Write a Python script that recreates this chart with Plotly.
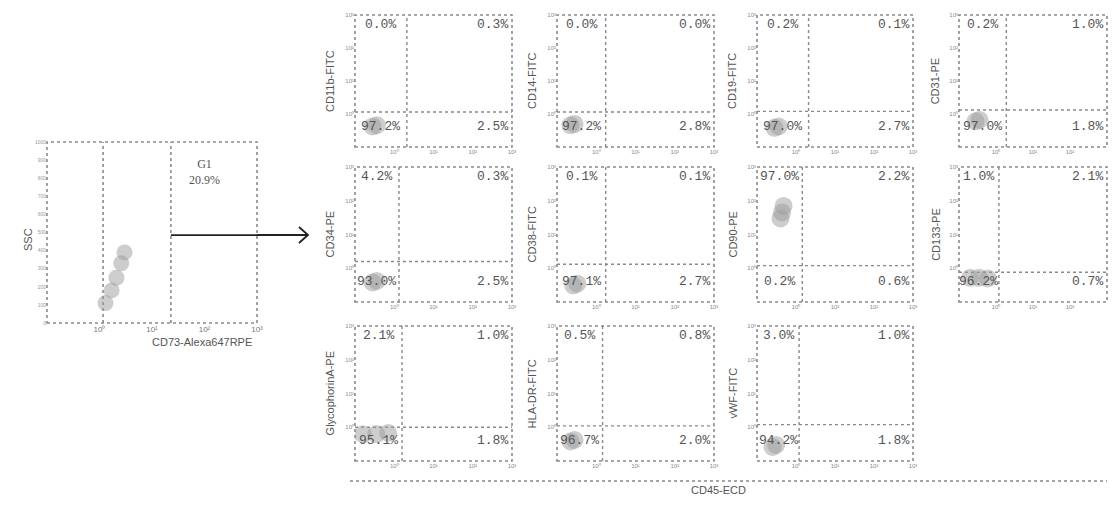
import math
import plotly.graph_objects as go

# the page body adds an 8px margin, so positions are measured from the
# reference picture and shifted by OFF; the figure is kept inside the window
OFF = 8
W, H = 1117 - 2 * OFF, 507 - 2 * OFF

# ---------------- data ----------------
panel_labels = ["CD11b-FITC", "CD14-FITC", "CD19-FITC", "CD31-PE",
                "CD34-PE", "CD38-FITC", "CD90-PE", "CD133-PE",
                "GlycophorinA-PE", "HLA-DR-FITC", "vWF-FITC"]
pct_ul = [0.0, 0.0, 0.2, 0.2, 4.2, 0.1, 97.0, 1.0, 2.1, 0.5, 3.0]
pct_ur = [0.3, 0.0, 0.1, 1.0, 0.3, 0.1, 2.2, 2.1, 1.0, 0.8, 1.0]
pct_ll = [97.2, 97.2, 97.0, 97.0, 93.0, 97.1, 0.2, 96.2, 95.1, 96.7, 94.2]
pct_lr = [2.5, 2.8, 2.7, 1.8, 2.5, 2.7, 0.6, 0.7, 1.8, 2.0, 1.8]
gate_x = [2.1, 1.74, 2.1, 1.9, 1.32, 1.74, 1.45, 1.2, 1.58, 1.45, 1.2]
gate_y = [1.15, 1.15, 1.2, 1.32, 1.58, 1.32, 1.2, 0.76, 1.0, 1.1, 1.2]
cloud_x = [[0.28, 0.36], [0.22, 0.28], [0.28, 0.36], [0.28, 0.36], [0.28, 0.36], [0.26, 0.33],
           [0.40, 0.44, 0.48], [0.20, 0.35, 0.60], [0.16, 0.35, 0.70],
           [0.22, 0.28], [0.25, 0.31]]
cloud_y = [[0.42, 0.46], [0.46, 0.50], [0.38, 0.42], [0.60, 0.66], [0.38, 0.42], [0.31, 0.35],
           [30, 45, 70], [0.52, 0.52, 0.50], [0.62, 0.63, 0.68],
           [0.38, 0.42], [0.26, 0.30]]
log_ticks = [1, 10, 100, 1000]
log_tick_text = ["10⁰", "10¹", "10²", "10³"]

# gating panel (left)
g1_gates = [1.17, 22.9]
g1_label = "G1"
g1_pct = 20.9
g1_arrow_ssc = 486
g1_cloud_x = [1.3, 1.7, 2.1, 2.6, 3.0]
g1_cloud_ssc = [110, 180, 250, 330, 390]
ssc_ticks = [0, 100, 200, 300, 400, 500, 600, 700, 800, 900, 1000]
x_title_left = "CD73-Alexa647RPE"
y_title_left = "SSC"
common_x_title = "CD45-ECD"

# ---------------- layout helpers ----------------
col_px = [(355, 512), (557, 714), (757, 913), (959, 1107)]
row_px = [(15, 147), (167, 302), (326, 461)]

def PX(x):
    return (x - OFF) / W

def PY(y):
    return 1 - (y - OFF) / H

def px_dom_x(a, b):
    return [PX(a), PX(b)]

def px_dom_y(top, bot):
    return [PY(bot), PY(top)]

TXT = "#555555"
BOX = "#8a8a8a"
pct_font = dict(family="Liberation Mono, DejaVu Sans Mono, monospace", size=13, color=TXT)
lab_font = dict(family="Liberation Sans Narrow, Liberation Sans, Arial", size=11, color=TXT)
tick_font = dict(family="Liberation Sans, Arial", size=6, color="#8a8a8a")
cloud_marker = dict(color="rgba(155,155,155,0.5)", line=dict(width=0))

fig = go.Figure()
layout = dict(template="none", width=W, height=H, margin=dict(l=0, r=0, t=0, b=0, pad=0),
              paper_bgcolor="white", plot_bgcolor="white", showlegend=False)
shapes, annotations = [], []

def box_shapes(k):
    xr = "x domain" if k == 1 else f"x{k} domain"
    yr = "y domain" if k == 1 else f"y{k} domain"
    shapes.append(dict(type="rect", xref=xr, yref=yr, x0=0, x1=1, y0=0, y1=1,
                       line=dict(color=BOX, width=1.6, dash="dot"), layer="above"))

# ---- left gating panel (axis 1) ----
layout["xaxis"] = dict(domain=px_dom_x(47, 257), anchor="y", type="log", range=[-1, 3],
                       tickvals=log_ticks, ticktext=log_tick_text, showgrid=False,
                       zeroline=False, showline=False, ticks="", automargin=False,
                       tickfont=dict(family="Liberation Sans, Arial", size=8, color="#777"))
layout["yaxis"] = dict(domain=px_dom_y(142, 323), anchor="x", range=[0, 1000],
                       tickvals=ssc_ticks, showgrid=False, zeroline=False,
                       showline=False, ticks="", automargin=False,
                       tickfont=dict(family="Liberation Sans, Arial", size=5, color="#999"))
box_shapes(1)
for g in g1_gates:
    fig.add_trace(go.Scatter(x=[g, g], y=[0, 1000], mode="lines", xaxis="x", yaxis="y",
                             line=dict(color=BOX, width=1.6, dash="dot"), hoverinfo="skip"))
fig.add_trace(go.Scatter(x=g1_cloud_x, y=g1_cloud_ssc, mode="markers", xaxis="x", yaxis="y",
                         marker=dict(size=16, **cloud_marker), hoverinfo="skip"))
fig.add_trace(go.Scatter(x=[g1_gates[1], 1000], y=[g1_arrow_ssc, g1_arrow_ssc], mode="lines",
                         xaxis="x", yaxis="y", line=dict(color="#222", width=1.8),
                         hoverinfo="skip"))
# arrow continuing outside panel
yA = PY(235)
shapes.append(dict(type="line", xref="paper", yref="paper", x0=PX(257), x1=PX(307),
                   y0=yA, y1=yA, line=dict(color="#222", width=1.8)))
shapes.append(dict(type="path", xref="paper", yref="paper",
                   path=f"M {PX(299)} {PY(227)} L {PX(308)} {yA} L {PX(299)} {PY(243)}",
                   line=dict(color="#222", width=1.8)))
annotations.append(dict(xref="x domain", yref="y domain", x=0.75, y=0.93, showarrow=False,
                        text=f"{g1_label}<br>{g1_pct:.1f}%",
                        font=dict(family="Liberation Serif", size=12, color=TXT),
                        xanchor="center", yanchor="top"))
annotations.append(dict(xref="paper", yref="paper", x=PX(150), y=PY(350), showarrow=False,
                        text=x_title_left, font=lab_font))
annotations.append(dict(xref="paper", yref="paper", x=PX(20), y=PY(240), showarrow=False,
                        text=y_title_left, textangle=-90, font=lab_font))

# ---- marker grid panels ----
for i, lab in enumerate(panel_labels):
    k = i + 2
    r, c = divmod(i, 4)
    xa, ya = f"x{k}", f"y{k}"
    layout[f"xaxis{k}"] = dict(domain=px_dom_x(*col_px[c]), anchor=ya, type="log", range=[-1, 3],
                               tickvals=log_ticks, ticktext=log_tick_text, showgrid=False,
                               zeroline=False, showline=False, ticks="", automargin=False,
                               tickfont=tick_font)
    layout[f"yaxis{k}"] = dict(domain=px_dom_y(*row_px[r]), anchor=xa, type="log", range=[-1, 3],
                               tickvals=log_ticks, ticktext=log_tick_text, showgrid=False,
                               zeroline=False, showline=False, ticks="", automargin=False,
                               tickfont=tick_font)
    box_shapes(k)
    gx, gy = gate_x[i], gate_y[i]
    fig.add_trace(go.Scatter(x=[gx, gx], y=[0.1, 1000], mode="lines", xaxis=xa, yaxis=ya,
                             line=dict(color=BOX, width=1.4, dash="dot"), hoverinfo="skip"))
    fig.add_trace(go.Scatter(x=[0.1, 1000], y=[gy, gy], mode="lines", xaxis=xa, yaxis=ya,
                             line=dict(color=BOX, width=1.4, dash="dot"), hoverinfo="skip"))
    fig.add_trace(go.Scatter(x=cloud_x[i], y=cloud_y[i], mode="markers", xaxis=xa, yaxis=ya,
                             marker=dict(size=18, **cloud_marker), hoverinfo="skip"))
    fx = (math.log10(gx) + 1) / 4
    xr, yr = f"{xa} domain", f"{ya} domain"
    annotations += [
        dict(xref=xr, yref=yr, x=fx / 2, y=1.0, text=f"{pct_ul[i]:.1f}%", showarrow=False,
             xanchor="center", yanchor="top", font=pct_font),
        dict(xref=xr, yref=yr, x=0.985, y=1.0, text=f"{pct_ur[i]:.1f}%", showarrow=False,
             xanchor="right", yanchor="top", font=pct_font),
        dict(xref=xr, yref=yr, x=fx / 2, y=0.08, text=f"{pct_ll[i]:.1f}%", showarrow=False,
             xanchor="center", yanchor="bottom", font=pct_font),
        dict(xref=xr, yref=yr, x=0.985, y=0.08, text=f"{pct_lr[i]:.1f}%", showarrow=False,
             xanchor="right", yanchor="bottom", font=pct_font),
        dict(xref=xr, yref=yr, x=-0.16, y=0.5, text=lab, showarrow=False, textangle=-90,
             xanchor="center", yanchor="middle", font=lab_font),
    ]

# common x axis line and title
shapes.append(dict(type="line", xref="paper", yref="paper", x0=PX(350), x1=PX(1107),
                   y0=PY(481), y1=PY(481), line=dict(color="#888", width=1.4, dash="dot")))
annotations.append(dict(xref="paper", yref="paper", x=PX(718), y=PY(498), showarrow=False,
                        yanchor="bottom", text=common_x_title, font=lab_font))

layout["shapes"] = shapes
layout["annotations"] = annotations
fig.update_layout(**layout)
fig.write_html("out.html")
